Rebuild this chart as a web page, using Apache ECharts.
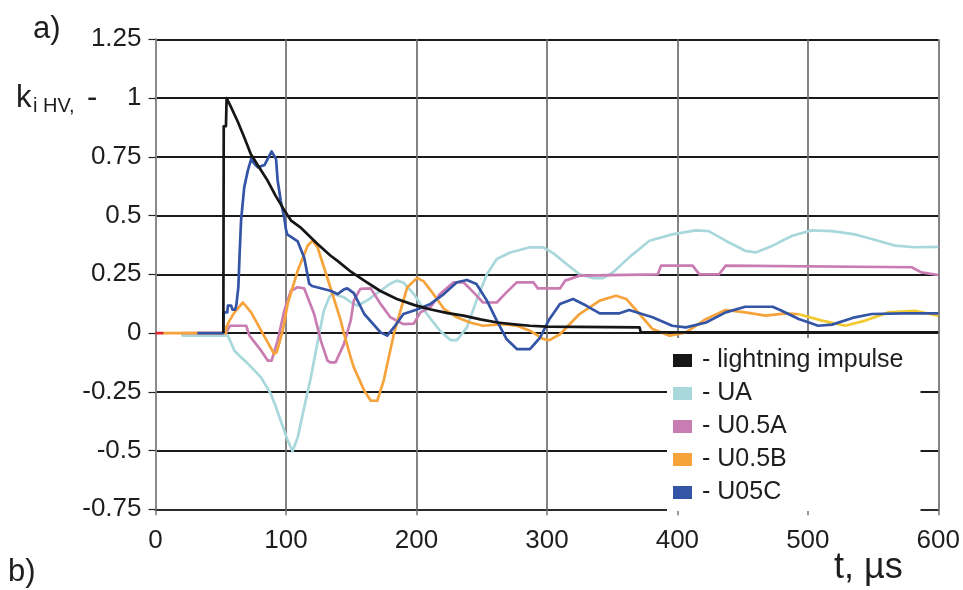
<!DOCTYPE html>
<html>
<head>
<meta charset="utf-8">
<script src="https://cdn.jsdelivr.net/npm/echarts@6/dist/echarts.min.js"></script>
<style>
html,body{margin:0;padding:0;background:#fff;}
#chart{width:963px;height:590px;}
</style>
</head>
<body>
<div id="chart"></div>
<script>
// ---- data: [t (µs), k_i HV] ----
const seriesNames = ['lightning impulse', 'UA', 'U0.5A', 'U0.5B', 'U05C'];
const yTicks = [-0.75, -0.5, -0.25, 0, 0.25, 0.5, 0.75, 1, 1.25];
const xTicks = [0, 100, 200, 300, 400, 500, 600];

const lightningImpulse = [[52,0],[52.3,0.88],[54,0.88],[54.5,1.0],[58,0.96],[63,0.9],[68,0.833],[73,0.762],[80,0.70],[86,0.648],[92,0.585],[99,0.52],[104,0.478],[111,0.45],[124,0.38],[134,0.33],[140,0.305],[150,0.26],[160,0.223],[172,0.18],[185,0.145],[198,0.12],[211,0.10],[224,0.085],[236,0.074],[249,0.058],[262,0.045],[275,0.037],[287,0.031],[300,0.027],[371,0.024],[372,0.003],[600,0.003]];

const UA = [[20,0],[21,-0.011],[55.5,-0.011],[60.5,-0.075],[65,-0.1],[70.7,-0.13],[76,-0.16],[81,-0.19],[88.5,-0.26],[92,-0.31],[96,-0.373],[101.3,-0.456],[105,-0.503],[109,-0.444],[114,-0.316],[119,-0.19],[124,-0.046],[129,0.095],[133,0.15],[135.6,0.17],[140,0.16],[144.5,0.152],[150,0.13],[154.7,0.117],[162,0.138],[172.5,0.18],[180,0.21],[185,0.223],[190,0.215],[198,0.166],[208,0.081],[218,0.01],[226,-0.03],[231,-0.03],[238.7,0.024],[246,0.138],[254,0.25],[261.6,0.315],[271.8,0.343],[287,0.365],[297,0.365],[304.8,0.34],[315,0.294],[325,0.25],[335,0.234],[343,0.234],[350.6,0.258],[363,0.322],[378.6,0.393],[396,0.42],[414,0.437],[424,0.434],[437,0.393],[452,0.35],[460,0.343],[473,0.372],[488,0.414],[503,0.437],[518.6,0.434],[536,0.42],[549,0.4],[567,0.372],[582,0.365],[600,0.367]];

const U05A = [[20,0],[54,0],[57,0.031],[69.5,0.031],[72,-0.011],[81,-0.075],[86,-0.117],[89,-0.117],[93.6,-0.032],[98.7,0.095],[103.8,0.18],[109,0.195],[114,0.19],[121.6,0.081],[126.7,-0.032],[131.8,-0.117],[134,-0.125],[138,-0.125],[144.5,-0.046],[149.6,0.053],[152,0.138],[157,0.188],[165,0.19],[172.5,0.124],[180,0.067],[190,0.038],[198,0.04],[203,0.088],[210.7,0.11],[218,0.166],[228.5,0.216],[236,0.216],[243.8,0.173],[251,0.13],[261.6,0.13],[269,0.173],[277,0.216],[289.6,0.216],[293,0.19],[310,0.19],[314,0.223],[325,0.244],[385,0.25],[387.5,0.287],[411.7,0.287],[416.8,0.25],[432,0.25],[437,0.287],[579.6,0.28],[587,0.258],[600,0.247]];

const U05B = [[6,0],[54,0],[54.2,0.024],[56.7,0.053],[60.5,0.088],[67,0.13],[73.3,0.088],[81,0.01],[86,-0.04],[91,-0.089],[93,-0.08],[97.5,0.01],[101.3,0.124],[109,0.266],[116.6,0.372],[120.4,0.393],[124.2,0.365],[134,0.195],[142,0.053],[144.5,-0.004],[149.6,-0.103],[152,-0.146],[160,-0.245],[165,-0.288],[170,-0.288],[175,-0.2],[182.7,-0.004],[187.8,0.095],[193,0.195],[200.5,0.234],[205.6,0.22],[213,0.166],[221,0.103],[231,0.067],[241,0.045],[251,0.031],[266.6,0.038],[277,0.031],[287,0.01],[297,-0.025],[302,-0.03],[310,-0.005],[325,0.081],[340.5,0.138],[353,0.159],[360.8,0.145],[371,0.081],[381,0.017],[394,-0.011],[406.6,0.003],[422,0.06],[437,0.098],[452,0.088],[467.7,0.074],[483,0.084],[493,0.08],[511,0.053],[528.8,0.031],[544,0.053],[561.8,0.088],[582,0.095],[600,0.074]];

const U05C = [[32,0],[52,0],[52.3,0.088],[55,0.088],[55.5,0.117],[58,0.117],[59,0.1],[61,0.1],[62,0.12],[63.5,0.195],[64.5,0.34],[65.6,0.48],[68,0.62],[70.7,0.69],[73.3,0.74],[75.8,0.72],[78.4,0.705],[83.5,0.715],[87.3,0.755],[89,0.773],[92.4,0.74],[93.6,0.65],[96,0.563],[98.7,0.49],[100,0.44],[101,0.42],[109,0.39],[114,0.32],[117.8,0.21],[120,0.2],[134,0.18],[139.5,0.166],[144.5,0.186],[147,0.19],[152,0.17],[160,0.081],[172.5,0.003],[177.6,-0.011],[182.7,0.024],[190,0.081],[200.5,0.10],[210.7,0.124],[221,0.166],[231,0.216],[238.7,0.226],[246,0.209],[254,0.138],[261.6,0.053],[269,-0.025],[277,-0.068],[287,-0.068],[294.7,-0.02],[302,0.06],[310,0.124],[320,0.145],[330,0.117],[340.5,0.084],[355.7,0.084],[363,0.098],[371,0.084],[381,0.067],[396,0.031],[406.6,0.024],[422,0.045],[437,0.088],[452,0.112],[473,0.112],[480,0.095],[493,0.06],[508,0.031],[518.6,0.036],[536,0.067],[549,0.081],[574.6,0.084],[600,0.084]];

const startTrace = [[0,0],[6,0]];
const yellowFrom = 493; // U0.5B is drawn yellow from here on

// ---- styling ----
const FONT = "'Liberation Sans', Arial, sans-serif";
const colors = {
  'lightning impulse': '#161616',
  'UA': '#a9d8dc',
  'U0.5A': '#c97cb2',
  'U0.5B': '#f5a33a',
  'U05C': '#3454a6'
};
const YELLOW = '#f2c92e';

const chart = echarts.init(document.getElementById('chart'), null, {renderer: 'canvas'});

function lineSeries(name, data, z, color) {
  const c = color || colors[name];
  return {
    name: name, type: 'line', data: data, showSymbol: false, symbol: 'none',
    z: z, animation: false,
    itemStyle: {color: c},
    lineStyle: {color: c, width: 2.7, join: 'round'}
  };
}

const U05B_first = U05B.filter(p => p[0] <= yellowFrom);
const U05B_second = U05B.filter(p => p[0] >= yellowFrom);

const option = {
  backgroundColor: '#ffffff',
  animation: false,
  textStyle: {fontFamily: FONT},
  grid: {left: 155.5, top: 39.3, width: 784, height: 470, containLabel: false},
  xAxis: {
    type: 'value', min: 0, max: 600, interval: 100,
    axisLine: {show: true, onZero: false, lineStyle: {color: '#2a2a2a', width: 2}},
    axisTick: {show: true, inside: false, length: 6, lineStyle: {color: '#777', width: 1.5}},
    axisLabel: {color: '#1e1e1e', fontSize: 26, fontFamily: FONT, margin: 19},
    splitLine: {show: true, lineStyle: {color: '#6e6e6e', width: 1.7}}
  },
  yAxis: {
    type: 'value', min: -0.75, max: 1.25, interval: 0.25,
    axisLine: {show: true, onZero: false, lineStyle: {color: '#8a8a8a', width: 2}},
    axisTick: {show: true, inside: false, length: 7, lineStyle: {color: '#222', width: 1.2}},
    axisLabel: {color: '#1e1e1e', fontSize: 26, fontFamily: FONT, margin: 14,
      formatter: function (v) { return String(Math.round(v * 100) / 100); }},
    splitLine: {show: true, lineStyle: {color: '#1a1a1a', width: 1.8}}
  },
  legend: {
    show: true, orient: 'vertical', left: 667, top: 338,
    backgroundColor: '#ffffff', padding: [8, 17, 4, 6],
    itemWidth: 19, itemHeight: 13, itemGap: 4, icon: 'rect',
    formatter: '- {name}',
    textStyle: {fontSize: 25, fontFamily: FONT, color: '#1e1e1e', lineHeight: 29, padding: [0, 0, 0, 5]},
    data: seriesNames.map(n => ({name: n, icon: 'rect', itemStyle: {color: colors[n]}}))
  },
  series: [
    {name: 'start', type: 'line', data: startTrace, showSymbol: false, symbol: 'none', z: 2,
     lineStyle: {color: '#e0262a', width: 2.7}, itemStyle: {color: '#e0262a'}},
    lineSeries('UA', UA, 2),
    lineSeries('U0.5A', U05A, 3),
    lineSeries('U0.5B', U05B_first, 4),
    lineSeries('U0.5B', U05B_second, 4, YELLOW),
    lineSeries('U05C', U05C, 5),
    lineSeries('lightning impulse', lightningImpulse, 6)
  ],
  graphic: [
    {type: 'text', left: 33, top: 14, style: {text: 'a)', font: '31px ' + FONT, fill: '#1e1e1e'}},
    {type: 'text', left: 16, top: 83, style: {text: 'k', font: '31px ' + FONT, fill: '#1e1e1e'}},
    {type: 'text', left: 33, top: 96, style: {text: 'i HV,', font: '20px ' + FONT, fill: '#1e1e1e'}},
    {type: 'text', left: 87, top: 83, style: {text: '-', font: '31px ' + FONT, fill: '#1e1e1e'}},
    {type: 'text', left: 8, top: 557, style: {text: 'b)', font: '31px ' + FONT, fill: '#1e1e1e'}},
    {type: 'text', left: 834, top: 550, style: {text: 't, \u00b5s', font: '36px ' + FONT, fill: '#1e1e1e'}}
  ]
};
chart.setOption(option);
</script>
</body>
</html>
